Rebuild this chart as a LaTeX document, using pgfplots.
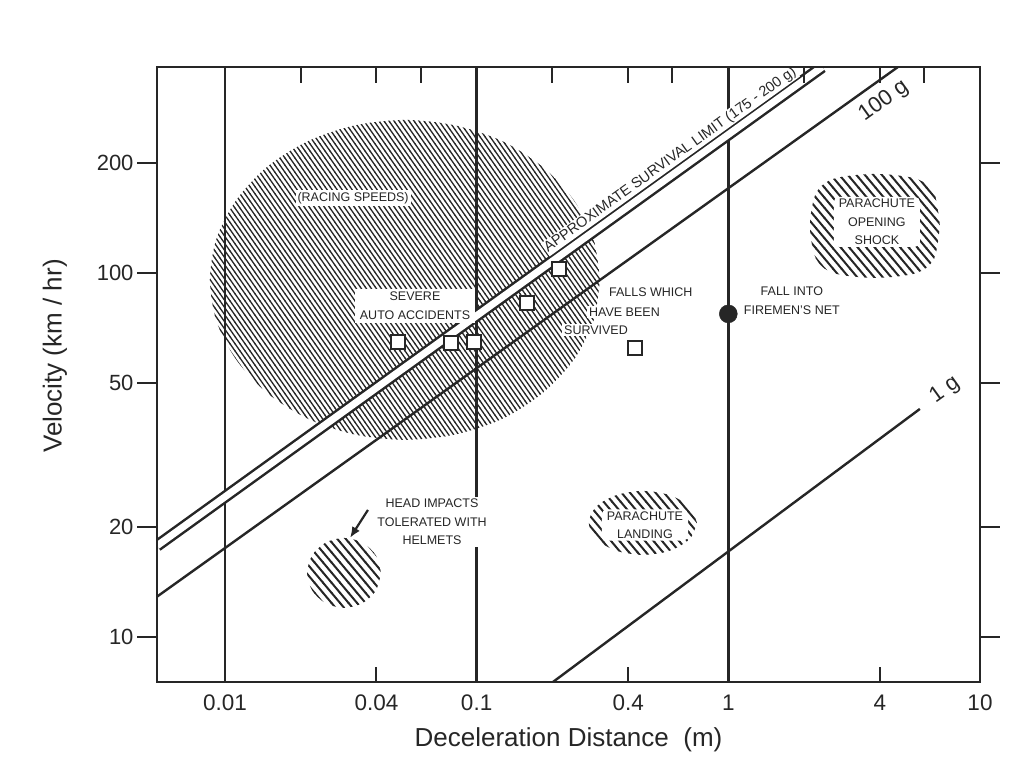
\documentclass[border=0pt]{standalone}
\usepackage{fontspec}
\setmainfont{Liberation Sans}
\usepackage{pgfplots}
\pgfplotsset{compat=1.18}
\usetikzlibrary{patterns,arrows.meta}
\definecolor{ink}{gray}{0.15}
\pgfdeclarepatternformonly{densehatch}{\pgfqpoint{-1pt}{-1pt}}{\pgfqpoint{6pt}{8.14pt}}{\pgfqpoint{5pt}{7.14pt}}{%
  \pgfsetlinewidth{1.3pt}%
  \pgfpathmoveto{\pgfqpoint{-0.2pt}{7.426pt}}%
  \pgfpathlineto{\pgfqpoint{5.2pt}{-0.286pt}}%
  \pgfusepath{stroke}}
\pgfdeclarepatternformonly{sparsehatch}{\pgfqpoint{-1pt}{-1pt}}{\pgfqpoint{9.5pt}{11.13pt}}{\pgfqpoint{8.5pt}{10.13pt}}{%
  \pgfsetlinewidth{2.0pt}%
  \pgfpathmoveto{\pgfqpoint{-0.3pt}{10.49pt}}%
  \pgfpathlineto{\pgfqpoint{8.8pt}{-0.358pt}}%
  \pgfusepath{stroke}}
\tikzset{lab/.style={font=\fontsize{12.5}{18.5}\selectfont, fill=white, inner sep=2pt, align=center, text=ink}}
\begin{document}
\begin{tikzpicture}
\begin{axis}[xmode=log, ymode=log, xmin=0.00537, xmax=10, ymin=7.52, ymax=368,
  width=823pt, height=615pt, scale only axis,
  axis line style={line width=2.4pt, ink},
  xtick={0.01,0.04,0.1,0.4,1,4,10},
  xticklabels={0.01,0.04,0.1,0.4,1,4,10},
  xtick pos=left, tick align=inside, major tick length=15pt,
  xtick style={line width=2pt, ink},
  ytick=\empty,
  xticklabel style={font=\fontsize{22.5}{24}\selectfont, anchor=center, yshift=-21pt, text=ink},
  xlabel={Deceleration Distance\ \ (m)}, ylabel={Velocity (km / hr)},
  xlabel style={font=\fontsize{26}{30}\selectfont, text=ink, at={(axis description cs:0.5,-0.094)}, anchor=center},
  ylabel style={font=\fontsize{26}{30}\selectfont, text=ink, at={(axis description cs:-0.124,0.53)}, anchor=center},
]
% hatched regions
\addplot[draw=none, pattern=densehatch, pattern color=ink, smooth] coordinates {
(0.309,95.7) (0.291,124.3) (0.243,158.7) (0.183,195.6) (0.127,229.9) (0.0824,254.2)
(0.0519,263.3) (0.0327,254.2) (0.0213,229.9) (0.0147,195.6) (0.0111,158.7) (0.00926,124.3)
(0.00872,95.7) (0.00926,73.6) (0.0111,57.7) (0.0147,46.8) (0.0213,39.8) (0.0327,36.0)
(0.0519,34.8) (0.0824,36.0) (0.127,39.8) (0.183,46.8) (0.243,57.7) (0.291,73.6) (0.309,95.7)};
\addplot[draw=none, pattern=sparsehatch, pattern color=ink, smooth] coordinates {
(6.93,134.6) (6.57,165.7) (5.56,181.6) (3.82,187.1) (2.63,181.6) (2.23,165.7) (2.11,134.6)
(2.23,109.4) (2.63,99.8) (3.82,96.9) (5.56,99.8) (6.57,109.4) (6.93,134.6)};
\addplot[draw=none, pattern=sparsehatch, pattern color=ink, smooth] coordinates {
(0.750,20.57) (0.703,22.76) (0.586,24.51) (0.458,25.18) (0.358,24.51) (0.298,22.76) (0.279,20.57)
(0.298,18.59) (0.358,17.26) (0.458,16.80) (0.586,17.26) (0.703,18.59) (0.750,20.57)};
\addplot[draw=none, pattern=sparsehatch, pattern color=ink, smooth] coordinates {
(0.0417,14.99) (0.0398,16.75) (0.0352,18.16) (0.0297,18.71) (0.0251,18.16) (0.0222,16.75) (0.0212,14.99)
(0.0222,13.42) (0.0251,12.38) (0.0297,12.02) (0.0352,12.38) (0.0398,13.42) (0.0417,14.99)};
% vertical reference lines
\addplot[ink, line width=2.4pt] coordinates {(0.01,7.52) (0.01,368)};
\addplot[ink, line width=2.4pt] coordinates {(0.1,7.52) (0.1,368)};
\addplot[ink, line width=2.4pt] coordinates {(1,7.52) (1,368)};
% deceleration lines
\addplot[ink, line width=12pt] coordinates {(0.00537,17.8) (2.36,368)};
\addplot[white, line width=7pt] coordinates {(0.00537,17.8) (2.36,368)};
\addplot[ink, line width=2.4pt] coordinates {(0.00537,12.9) (4.72,368)};
\addplot[ink, line width=2.4pt] coordinates {(0.201,7.52) (5.77,42.3)};
% labels
\node[lab] at (0.0323,160.7) {(RACING SPEEDS)};
\node[lab, inner xsep=5pt, inner ysep=3pt] at (0.0569,81.2) {SEVERE\\AUTO ACCIDENTS};
\node[lab, anchor=west] at (0.3294,88.7) {FALLS WHICH};
\node[lab, anchor=west] at (0.2744,78.1) {HAVE BEEN};
\node[lab, anchor=west] at (0.2183,69.7) {SURVIVED};
\node[lab] at (1.789,83.8) {FALL INTO\\FIREMEN'S NET};
\node[lab] at (0.0665,20.7) {HEAD IMPACTS\\TOLERATED WITH\\HELMETS};
\node[lab, rounded corners=5pt, inner xsep=5pt] at (3.894,138.1) {PARACHUTE\\OPENING\\SHOCK};
\node[lab, rounded corners=5pt, inner xsep=5pt] at (0.4664,20.3) {PARACHUTE\\LANDING};
\node[lab, rotate=35.7, anchor=south, inner sep=1pt, font=\fontsize{14.5}{16}\selectfont] at (0.6135,196) {APPROXIMATE SURVIVAL LIMIT (175 - 200 g)};
\node[font=\fontsize{22}{24}\selectfont, rotate=35.7, text=ink] at (4.15,296.9) {100 g};
\node[font=\fontsize{22}{24}\selectfont, rotate=35.7, text=ink] at (7.26,47.7) {1 g};
\draw[-{Latex[length=11pt,width=9pt]}, line width=2.2pt, ink] (0.0370,22.33) -- (0.0314,18.71);
% data points
\addplot[only marks, mark=square*, mark size=7pt, mark options={fill=white, draw=ink, line width=2pt}] coordinates {
(0.0487,64.6) (0.0790,64.2) (0.0976,64.6) (0.1584,82.7) (0.2123,102.6) (0.4255,62.2)};
\addplot[only marks, mark=*, mark size=9pt, mark options={fill=ink, draw=ink}] coordinates {(1,77.2)};
\end{axis}
\begin{axis}[xmode=log, ymode=log, xmin=0.00537, xmax=10, ymin=7.52, ymax=368,
  width=823pt, height=615pt, scale only axis,
  axis line style={line width=2.4pt, ink},
  xtick={0.02,0.04,0.06,0.2,0.4,0.6,2,4,6},
  xticklabels={},
  xtick pos=right, tick align=inside, major tick length=16pt,
  xtick style={line width=2pt, ink},
  ytick=\empty]
\addplot[draw=none] coordinates {(1,10)};
\end{axis}
\begin{axis}[xmode=log, ymode=log, xmin=0.00537, xmax=10, ymin=7.52, ymax=368,
  width=823pt, height=615pt, scale only axis,
  axis line style={line width=2.4pt, ink},
  xtick=\empty,
  ytick={10,20,50,100,200}, yticklabels={10,20,50,100,200},
  ytick pos=both, tick align=outside, major tick length=20pt,
  ytick style={line width=2pt, ink},
  yticklabel style={font=\fontsize{22}{24}\selectfont, anchor=east, text=ink}]
\addplot[draw=none] coordinates {(1,10)};
\end{axis}
\pgfresetboundingbox
\path[use as bounding box] (current axis.south west) ++(-157pt,-83pt) rectangle ++(1032pt,765pt);
\end{tikzpicture}
\end{document}
